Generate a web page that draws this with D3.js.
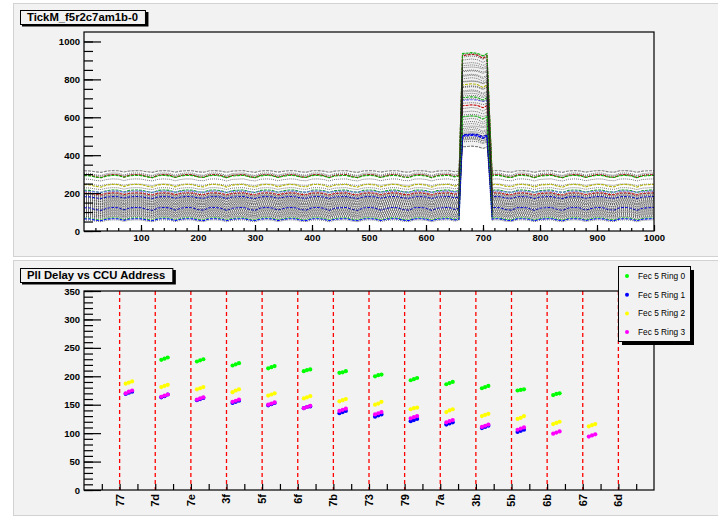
<!DOCTYPE html>
<html>
<head>
<meta charset="utf-8">
<script src="https://cdn.jsdelivr.net/npm/d3@7"></script>
<style>
  body { margin: 0; background: #fff; }
  svg { display: block; }
  text { font-family: "Liberation Sans", Arial, Helvetica, sans-serif; }
</style>
</head>
<body>
<svg id="canvas" width="718" height="516"></svg>
<script>
// ---- top pad: tick mark traces (one entry per trace) ----
const tickTitle = "TickM_f5r2c7am1b-0";
const tickBase = [316, 303, 297, 293, 290, 272, 246, 242, 226, 213, 209, 203, 198, 194, 190, 186, 183, 179, 175, 172,
                  168, 164, 161, 157, 153, 150, 146, 142, 139, 135, 131, 127, 124, 120, 116, 113, 109, 105, 102, 98,
                  94, 90, 87, 83, 79, 75, 71, 66, 62, 56];
const tickPeak = [444, 918, 932, 926, 936, 884, 862, 771, 841, 703, 690, 822, 661, 803, 786, 757, 739, 508, 722, 674,
                  646, 628, 612, 601, 588, 574, 562, 551, 540, 531, 521, 513, 498, 504, 493, 488, 484, 479, 694, 712,
                  733, 761, 789, 816, 846, 872, 902, 603, 500, 470];
const tickWiggle = [0.8, 1.2, 1.0, 1.4, 1.1, 1.0, 0.7, 1.3, 0.9, 1.2, 0.6, 1.1, 1.0, 1.3, 0.8, 1.0, 1.2, 0.9, 1.1, 0.7,
                    1.3, 1.0, 0.8, 1.2, 1.4, 0.9, 1.1, 0.6, 1.3, 1.0, 0.8, 1.2, 1.0, 1.4, 0.7, 1.1, 0.9, 1.3, 1.0, 0.8,
                    1.2, 1.1, 0.9, 1.3, 0.7, 1.0, 1.2, 1.1, 1.0, 0.9];
const tickColor = ["#808000", "#000", "#000", "#a00000", "#00b400", "#000", "#000", "#b0b000", "#000", "#00a000",
                   "#7070ff", "#000", "#c00000", "#000", "#000", "#000", "#000", "#0000c8", "#000", "#000",
                   "#000", "#000", "#000", "#000", "#000", "#000", "#000", "#000", "#000", "#000",
                   "#000", "#000", "#000", "#0000c8", "#000", "#000", "#000", "#000", "#000", "#000",
                   "#000", "#000", "#000", "#000", "#000", "#000", "#000", "#20c020", "#0000ff", "#000"];
// shared ripple of the baseline, one value every 10 samples (0..1000)
const rippleDY = [2, 1, -5, -8, 0, 3, 2, -6, 1, 3,
                  2, -4, -8, 1, 3, 1, -7, 0, 3, 2,
                  -5, -7, 2, 3, 0, -8, 0, 2, 3, -4,
                  -8, 1, 3, 1, -7, -1, 3, 2, -5, -7,
                  2, 3, 0, -8, 0, 2, 3, -4, -8, 1,
                  3, 1, -7, -1, 3, 2, -5, -7, 2, 3,
                  0, -8, 0, 2, 3, -4, -8, 1, 3, 1,
                  -7, -1, 3, 2, -5, -7, 2, 3, 0, -8,
                  0, 2, 3, -4, -8, 1, 3, 1, -7, -1,
                  3, 2, -5, -7, 2, 3, 0, -8, 0, 2, 3];
// sample positions of the pulse: rise start, plateau start, plateau end, fall end
const peakEdges = [658, 664, 707, 716];

// ---- bottom pad: PLL delay per CCU address ----
const pllTitle = "Pll Delay vs CCU Address";
const ccuAddress = ["77", "7d", "7e", "3f", "5f", "6f", "7b", "73", "79", "7a", "3b", "5b", "6b", "67", "6d"];
const ring0 = [null, [229, 231, 233], [226, 228, 230], [219, 221, 223], [214, 216, 218], [209, 211, 212], [206, 207, 209],
               [200, 202, 203], [193, 195, 197], [186, 188, 190], [179, 181, 183], [175, 176, 177], [167, 169, 170], null, null];
const ring1 = [[169, 171, 173], [163, 165, 168], [158, 160, 162], [153, 155, 157], [149, 151, 153], [144, 146, 147], [135, 137, 139],
               [129, 131, 133], [121, 123, 125], [115, 117, 119], [109, 111, 113], [102, 104, 106], null, null, null];
const ring2 = [[187, 189, 191], [181, 183, 185], [177, 179, 181], [172, 175, 177], [166, 168, 170], [161, 163, 165], [156, 158, 160],
               [150, 152, 155], [142, 144, 145], [137, 140, 142], [130, 132, 134], [125, 127, 130], [116, 118, 120], [112, 114, 116], null];
const ring3 = [[170, 173, 175], [164, 166, 168], [159, 161, 163], [155, 157, 159], [150, 152, 154], [144, 146, 148], [139, 141, 143],
               [133, 135, 137], [126, 128, 130], [119, 121, 123], [111, 113, 115], [106, 108, 110], [99, 101, 103], [94, 96, 98], null];
const ringNames = ["Fec 5 Ring 0", "Fec 5 Ring 1", "Fec 5 Ring 2", "Fec 5 Ring 3"];
const ringColors = ["#00ff00", "#0000ff", "#ffff00", "#ff00ff"];
const clusterOffsets = [0.17, 0.26, 0.35];

const svg = d3.select("#canvas");
const padFill = "#f2f2f2";

// pads
function drawPad(y0, y1) {
  svg.append("rect").attr("x", 13.5).attr("y", y0 + 0.5).attr("width", 720).attr("height", y1 - y0)
    .attr("fill", padFill).attr("stroke", "#d2d2d2");
}
drawPad(3, 256);
drawPad(260, 515);

function titleBox(x, y, label) {
  const g = svg.append("g");
  const shadow = g.append("rect").attr("fill", "#000");
  const box = g.append("rect").attr("fill", padFill).attr("stroke", "#000");
  const t = g.append("text").attr("x", x + 7).attr("y", y + 11)
    .attr("font-size", 11.3).attr("font-weight", "bold").text(label);
  const w = t.node().getComputedTextLength() + 14;
  box.attr("x", x + 0.5).attr("y", y + 0.5).attr("width", w).attr("height", 14);
  shadow.attr("x", x + 2).attr("y", y + 2).attr("width", w + 1.5).attr("height", 14.5);
}

// ================= top pad =================
const f1 = {left: 84, right: 654, top: 32, bottom: 231};
const x1 = d3.scaleLinear().domain([0, 1000]).range([f1.left, f1.right]);
const y1 = d3.scaleLinear().domain([0, 1050]).range([f1.bottom, f1.top]);

const rippleX = d3.range(0, 1001, 10);
function traceKnots(i) {
  const pts = [];
  rippleX.forEach((sx, k) => {
    const w = rippleDY[k] * tickWiggle[i];
    if (sx < peakEdges[0] || sx > peakEdges[3]) pts.push([sx, tickBase[i] + w]);
    else if (sx >= peakEdges[1] && sx <= peakEdges[2]) pts.push([sx, tickPeak[i] + w * 1.5]);
  });
  pts.push([peakEdges[0], tickBase[i]], [peakEdges[1], tickPeak[i]],
           [peakEdges[2], tickPeak[i]], [peakEdges[3], tickBase[i]]);
  return pts.sort((a, b) => a[0] - b[0]);
}

svg.append("clipPath").attr("id", "clip1").append("rect")
  .attr("x", f1.left).attr("y", f1.top).attr("width", f1.right - f1.left).attr("height", f1.bottom - f1.top);
const plot1 = svg.append("g").attr("clip-path", "url(#clip1)");

const line1 = d3.line().x(d => x1(d[0])).y(d => y1(d[1]));
const area1 = d3.area().x(d => x1(d[0])).y0(y1(0)).y1(d => y1(d[1]));

// first trace is drawn filled in white
plot1.append("path").datum(traceKnots(0)).attr("d", area1).attr("fill", "#fff");

tickBase.forEach((b, i) => {
  const black = tickColor[i] === "#000";
  plot1.append("path").datum(traceKnots(i)).attr("d", line1)
    .attr("fill", "none")
    .attr("stroke", i === 0 ? "#777" : (black ? "#222" : tickColor[i]))
    .attr("stroke-width", black ? 0.9 : 1.1)
    .attr("stroke-dasharray", black ? "1,1" : "3,1")
    .attr("opacity", black ? 0.7 : 0.95);
});

svg.append("rect").attr("x", f1.left).attr("y", f1.top)
  .attr("width", f1.right - f1.left).attr("height", f1.bottom - f1.top)
  .attr("fill", "none").attr("stroke", "#000").attr("stroke-width", 1.2);

function styleAxis(g, fs) {
  g.select(".domain").remove();
  g.selectAll("line").attr("stroke", "#000").attr("stroke-width", 1.2);
  g.selectAll("text").attr("font-size", fs).attr("font-weight", "bold").attr("fill", "#000");
}

svg.append("g").attr("transform", `translate(0,${f1.bottom})`)
  .call(d3.axisBottom(x1).tickValues(d3.range(20, 1000, 20)).tickFormat("").tickSize(-3))
  .call(g => styleAxis(g, 9));
svg.append("g").attr("transform", `translate(0,${f1.bottom})`)
  .call(d3.axisBottom(x1).tickValues(d3.range(100, 1001, 100)).tickFormat(d3.format("d")).tickSize(-6).tickPadding(3))
  .call(g => styleAxis(g, 9.5));
svg.append("g").attr("transform", `translate(${f1.left},0)`)
  .call(d3.axisLeft(y1).tickValues(d3.range(0, 1050, 50)).tickFormat("").tickSize(-9))
  .call(g => styleAxis(g, 9));
svg.append("g").attr("transform", `translate(${f1.left},0)`)
  .call(d3.axisLeft(y1).tickValues(d3.range(0, 1001, 200)).tickFormat(d3.format("d")).tickSize(-17).tickPadding(4))
  .call(g => styleAxis(g, 9.5));

titleBox(20, 10, tickTitle);

// ================= bottom pad =================
const f2 = {left: 84, right: 654, top: 291, bottom: 490};
const x2 = d3.scaleLinear().domain([0, ccuAddress.length + 1]).range([f2.left, f2.right]);
const y2 = d3.scaleLinear().domain([0, 350]).range([f2.bottom, f2.top]);

svg.append("g").selectAll("line").data(ccuAddress).join("line")
  .attr("x1", (d, i) => x2(i + 1)).attr("x2", (d, i) => x2(i + 1))
  .attr("y1", f2.top).attr("y2", f2.bottom)
  .attr("stroke", "#ff0000").attr("stroke-width", 1.3).attr("stroke-dasharray", "4,3");

[ring0, ring1, ring2, ring3].forEach((ring, s) => {
  const pts = [];
  ring.forEach((cl, i) => {
    if (!cl) return;
    cl.forEach((v, j) => pts.push([i + 1 + clusterOffsets[j], v]));
  });
  svg.append("g").selectAll("circle").data(pts).join("circle")
    .attr("cx", d => x2(d[0])).attr("cy", d => y2(d[1])).attr("r", 2.1)
    .attr("fill", ringColors[s]);
});

svg.append("rect").attr("x", f2.left).attr("y", f2.top)
  .attr("width", f2.right - f2.left).attr("height", f2.bottom - f2.top)
  .attr("fill", "none").attr("stroke", "#000").attr("stroke-width", 1.2);

svg.append("g").attr("transform", `translate(0,${f2.bottom})`)
  .call(d3.axisBottom(x2).tickValues(d3.range(0.5, ccuAddress.length + 1, 0.5)).tickFormat("").tickSize(-6))
  .call(g => styleAxis(g, 9));
svg.append("g").selectAll("text").data(ccuAddress).join("text")
  .attr("transform", (d, i) => `translate(${x2(i + 1)},${f2.bottom + 4}) rotate(-90)`)
  .attr("text-anchor", "end").attr("dy", "0.36em")
  .attr("font-size", 11).attr("font-weight", "bold").text(d => d);

svg.append("g").attr("transform", `translate(${f2.left},0)`)
  .call(d3.axisLeft(y2).tickValues(d3.range(0, 351, 10)).tickFormat("").tickSize(-9))
  .call(g => styleAxis(g, 9));
svg.append("g").attr("transform", `translate(${f2.left},0)`)
  .call(d3.axisLeft(y2).tickValues(d3.range(0, 351, 50)).tickFormat(d3.format("d")).tickSize(-17).tickPadding(4))
  .call(g => styleAxis(g, 9.5));

titleBox(20, 268, pllTitle);

// legend
const lg = svg.append("g");
lg.append("rect").attr("x", 622).attr("y", 270).attr("width", 72).attr("height", 75).attr("fill", "#000");
lg.append("rect").attr("x", 618.5).attr("y", 266.5).attr("width", 72).attr("height", 75)
  .attr("fill", padFill).attr("stroke", "#000");
const entries = lg.selectAll("g.e").data(ringNames).join("g")
  .attr("transform", (d, i) => `translate(0,${276 + i * 18.7})`);
entries.append("circle").attr("cx", 627).attr("cy", 0).attr("r", 2)
  .attr("fill", (d, i) => ringColors[i]);
entries.append("text").attr("x", 638).attr("dy", "0.35em").attr("font-size", 8.3)
  .attr("fill", "#000").text(d => d);
</script>
</body>
</html>
